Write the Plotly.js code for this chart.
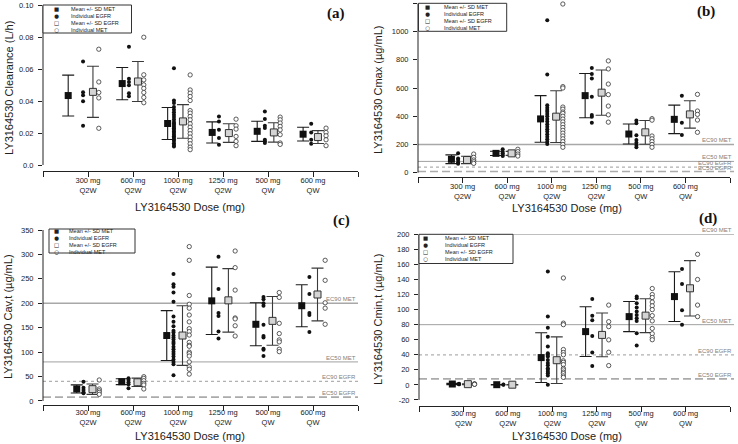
<!DOCTYPE html>
<html><head><meta charset="utf-8">
<script src="https://cdn.plot.ly/plotly-3.0.1.min.js"></script>
<style>html,body{margin:0;padding:0;background:#fff}#chart{width:738px;height:444px}</style>
</head><body><div id="chart"></div>
<script>
// ---------------- DATA ----------------
const categories = ['300 mg<br>Q2W','600 mg<br>Q2W','1000 mg<br>Q2W','1250 mg<br>Q2W','500 mg<br>QW','600 mg<br>QW'];
const catIndex = [1,2,3,4,5,6];
const legendLabels = ['Mean +/- SD MET','Individual EGFR','Mean +/- SD EGFR','Individual MET'];
const refLabels = ['EC90 MET','EC50 MET','EC90 EGFR','EC50 EGFR'];
const refValues = [200, 80, 40, 8];

// (a) Clearance
const metMeanA = [0.0435, 0.051, 0.026, 0.0204, 0.0211, 0.0193];
const metSdA   = [0.0128, 0.0101, 0.0100, 0.0066, 0.0063, 0.0043];
const egfrMeanA = [0.0458, 0.0523, 0.0273, 0.0200, 0.0204, 0.0175];
const egfrSdA   = [0.0160, 0.0125, 0.0105, 0.0058, 0.0061, 0.0040];
const egfrIndA = [
  [0.0648, 0.0455, 0.0437, 0.0400, 0.0246],
  [0.074, 0.054, 0.052, 0.050, 0.045, 0.043],
  [0.0606, 0.0404, 0.0388, 0.0363, 0.0346, 0.033, 0.0315, 0.030, 0.0285, 0.027, 0.026, 0.025, 0.024, 0.023, 0.022, 0.021, 0.020, 0.019, 0.018, 0.017, 0.016, 0.015, 0.0137, 0.0125, 0.0116],
  [0.0304, 0.0273, 0.0221, 0.0169, 0.0127],
  [0.0335, 0.0288, 0.0246, 0.0231, 0.0158, 0.0148, 0.0138],
  [0.0258, 0.0204, 0.0158, 0.0133]
];
const metIndA = [
  [0.0725, 0.052, 0.0454, 0.042, 0.023],
  [0.080, 0.0565, 0.0533, 0.0502, 0.048, 0.0454, 0.0423, 0.039],
  [0.0564, 0.047, 0.045, 0.0429, 0.0404, 0.0341, 0.0325, 0.0304, 0.0283, 0.0258, 0.0237, 0.0216, 0.0196, 0.0175, 0.0154, 0.0133, 0.0112, 0.0096],
  [0.0287, 0.0246, 0.0225, 0.0179, 0.0148, 0.0121],
  [0.030, 0.0283, 0.0263, 0.0242, 0.022, 0.019, 0.0138, 0.0129],
  [0.0231, 0.0204, 0.0183, 0.0158, 0.0121]
];

// (b) Cmax
const metMeanB = [95, 137, 381, 546, 274, 378];
const metSdB   = [31, 15, 165, 157, 71, 101];
const egfrMeanB = [90, 137, 397, 567, 286, 413];
const egfrSdB   = [26, 14, 183, 160, 84, 97];
const egfrIndB = [
  [137, 100, 90, 72, 64],
  [166, 149, 137, 125, 118],
  [1080, 695, 478, 460, 445, 432, 415, 400, 380, 362, 343, 326, 308, 291, 272, 255, 237, 220, 203],
  [741, 700, 668, 538, 409, 397, 354],
  [369, 350, 265, 232, 213, 196, 180],
  [545, 354, 267]
];
const metIndB = [
  [132, 109, 90, 78, 66],
  [166, 149, 132, 118],
  [1195, 610, 600, 465, 450, 430, 420, 400, 380, 360, 340, 320, 300, 280, 260, 240, 220, 200, 180],
  [792, 735, 628, 553, 472, 410, 358],
  [383, 372, 260, 240, 220, 200, 180],
  [555, 437, 413, 373, 286]
];

// (c) Cav,t
const metMeanC = [24.6, 39.5, 134, 205, 157, 195];
const metSdC   = [8.3, 5.9, 51, 69, 44, 43];
const egfrMeanC = [24.2, 38.3, 134, 206, 164, 218];
const egfrSdC   = [10.6, 8.5, 61, 65, 50, 54];
const egfrIndC = [
  [39.6, 27.3, 22.5, 17.7, 15.7],
  [46.4, 43, 38.3, 34.2, 26],
  [260, 239, 234, 222, 203, 173, 162, 153, 144, 140, 134, 130, 126, 121, 117, 111, 106, 101, 96, 91, 85, 80, 75, 52.6],
  [295, 229, 180, 174, 142, 128],
  [213, 208, 200, 195, 156, 133, 130, 107, 105, 92],
  [254, 219, 180, 176, 141]
];
const metIndC = [
  [43, 24.6, 21, 17.7, 13.6],
  [49.8, 46.4, 41.6, 36.2, 32.8, 24.6],
  [316, 288, 216, 198, 190, 176, 162, 148, 142, 135, 120, 114, 112, 100, 97, 92, 80, 70, 65, 55],
  [307, 273, 227, 170, 168, 154, 133],
  [222, 212, 159, 138, 125, 121, 106, 101],
  [288, 247, 201, 190, 157]
];

// (d) Cmin,t
const metMeanD = [1.2, 0.3, 36.3, 70.8, 90.7, 117.3];
const metSdD   = [0.8, 0.3, 33, 33, 20, 33];
const egfrMeanD = [1.0, 0.3, 32.8, 66.4, 92, 128.3];
const egfrSdD   = [0.6, 0.3, 31, 29, 22.5, 36.7];
const egfrIndD = [
  [1.5, 1.0, 0.8],
  [0.4, 0.2],
  [150.5, 91, 76, 64, 51, 42, 40, 37.6, 33, 29, 26, 22, 20, 17.5, 15.5, 12.4, 0.3],
  [114, 92, 86, 65, 43, 25.2],
  [117.3, 115, 108.5, 102.7, 97.4, 93, 88.5, 85, 68.6, 52.2],
  [154, 134, 99, 80]
];
const metIndD = [
  [1.5, 1.0, 0.8],
  [],
  [142, 82, 80, 47, 43, 40, 32, 30, 27, 22, 20, 17, 15, 12, 10],
  [106, 84, 77.4, 59.8, 43.4, 25.7],
  [128, 120, 116, 110, 105, 100, 92, 85, 75, 68, 63, 60],
  [173.5, 140, 106, 90.7]
];

// ---------------- LAYOUT HELPERS ----------------
const W = 738, H = 444;
const px = x => x / W;
const py = y => 1 - y / H;
const FONT = 'Liberation Sans, Arial, sans-serif';

const defOff = {sq:[-0.25,-0.25,-0.25,-0.25,-0.27,-0.25], dot:[-0.1,-0.1,-0.1,-0.1,-0.1,-0.08], osq:[0.1,0.1,0.1,0.12,0.1,0.1], circ:[0.25,0.24,0.25,0.27,0.25,0.27]};
const offA = {sq:[-0.44,-0.24,-0.23,-0.24,-0.24,-0.22], dot:[-0.11,-0.09,-0.09,-0.09,-0.07,-0.04], osq:[0.11,0.11,0.11,0.13,0.13,0.11], circ:[0.24,0.24,0.27,0.29,0.27,0.29]};

const panels = [
  {id:'a', xa:'x', ya:'y', xdom:[43,358], ydom:[171,5.3], yr:[-0.00375,0.10],
   tv:[0,0.02,0.04,0.06,0.08,0.10], tt:['0.0','0.02','0.04','0.06','0.08','0.10'], yline:[0,0.10],
   data:{mm:metMeanA, ms:metSdA, em:egfrMeanA, es:egfrSdA, ei:egfrIndA, mi:metIndA}, off:offA,
   ytitle:'LY3164530 Clearance (L/h)', ytx:9, yty:88, xtx:190, xty:207, lab:[336,13], xso:-3,
   leg:{box:[43,5,131.5,33], sym:56, txt:70}, refs:false},
  {id:'b', xa:'x2', ya:'y2', xdom:[418,730], ydom:[177.3,3.3], yr:[-32.6,1200],
   tv:[0,200,400,600,800,1000,1200], tt:null, yline:[0,1200],
   data:{mm:metMeanB, ms:metSdB, em:egfrMeanB, es:egfrSdB, ei:egfrIndB, mi:metIndB}, off:defOff,
   ytitle:'LY3164530 Cmax (µg/mL)', ytx:378, yty:90, xtx:567, xty:208, lab:[706,12], xso:-3,
   leg:{box:[418.5,3.3,506.7,31.3], sym:427, txt:443}, refs:true, refEnd:734},
  {id:'c', xa:'x3', ya:'y3', xdom:[43,358], ydom:[405,230], yr:[-8.2,350],
   tv:[0,50,100,150,200,250,300,350], tt:null, yline:[0,350],
   data:{mm:metMeanC, ms:metSdC, em:egfrMeanC, es:egfrSdC, ei:egfrIndC, mi:metIndC}, off:defOff,
   ytitle:'LY3164530 Cav,t (µg/mL)', ytx:8, yty:317, xtx:190, xty:435.5, lab:[341,220], xso:-5,
   leg:{box:[49,229,135,253], sym:56, txt:68}, refs:true, refEnd:358},
  {id:'d', xa:'x4', ya:'y4', xdom:[419,730], ydom:[406,234.3], yr:[-28,200],
   tv:[-20,0,20,40,60,80,100,120,140,160,180,200], tt:null, yline:[-20,200],
   data:{mm:metMeanD, ms:metSdD, em:egfrMeanD, es:egfrSdD, ei:egfrIndD, mi:metIndD}, off:defOff,
   ytitle:'LY3164530 Cmin,t (µg/mL)', ytx:378, yty:320, xtx:567, xty:435.5, lab:[708,218], xso:-5,
   leg:{box:[419,234.3,513,263.5], sym:425, txt:444}, refs:true, refEnd:734}
];

const traces = [];
const layout = {
  width: W, height: H, margin:{l:0,r:0,t:0,b:0},
  paper_bgcolor:'#fff', plot_bgcolor:'rgba(0,0,0,0)', showlegend:false,
  font:{family:FONT, size:8, color:'#222'},
  shapes:[], annotations:[]
};

panels.forEach((p, k) => {
  const n = k === 0 ? '' : String(k+1);
  const d = p.data, o = p.off;
  const xs = s => catIndex.map((c,i) => c + o[s][i]);
  const flat = (arr, s) => { const X=[],Y=[]; arr.forEach((vals,i)=>vals.forEach(v=>{X.push(catIndex[i]+o[s][i]); Y.push(v);})); return [X,Y]; };
  const [dx, dy] = flat(d.ei, 'dot');
  const [cx, cy] = flat(d.mi, 'circ');
  traces.push({type:'scatter', mode:'markers', name:legendLabels[0], xaxis:p.xa, yaxis:p.ya, cliponaxis:false,
    x: xs('sq'), y: d.mm, error_y:{type:'data', array:d.ms, visible:true, color:'#1a1a1a', thickness:1.1, width:6},
    marker:{symbol:'square', size:7, color:'#111'}});
  traces.push({type:'scatter', mode:'markers', name:legendLabels[1], xaxis:p.xa, yaxis:p.ya, cliponaxis:false,
    x: dx, y: dy, marker:{symbol:'circle', size:4, color:'#111'}});
  traces.push({type:'scatter', mode:'markers', name:legendLabels[2], xaxis:p.xa, yaxis:p.ya, cliponaxis:false,
    x: xs('osq'), y: d.em, error_y:{type:'data', array:d.es, visible:true, color:'#3a3a3a', thickness:1.1, width:6},
    marker:{symbol:'square', size:7, color:'#d4d4d4', line:{color:'#333', width:1}}});
  traces.push({type:'scatter', mode:'markers', name:legendLabels[3], xaxis:p.xa, yaxis:p.ya, cliponaxis:false,
    x: cx, y: cy, marker:{symbol:'circle', size:4.3, color:'#fff', line:{color:'#333', width:0.8}}});

  layout['xaxis'+n] = {domain:[px(p.xdom[0]), px(p.xdom[1])], anchor:p.ya, range:[0,7],
    tickvals:[0,1,2,3,4,5,6,7], ticktext:[''].concat(categories, ['']),
    showline:true, linecolor:'#222', linewidth:1, ticks:'outside', ticklen:5, tickcolor:'#222',
    showgrid:false, zeroline:false, tickfont:{family:FONT, size:7.5, color:'#222'}, ticklabelstandoff:p.xso, fixedrange:true};
  layout['yaxis'+n] = {domain:[py(p.ydom[0]), py(p.ydom[1])], anchor:p.xa, range:p.yr,
    tickvals:p.tv, ticktext:p.tt || p.tv.map(String), showline:false, ticks:'outside', ticklen:4, tickcolor:'#222',
    showgrid:false, zeroline:false, tickfont:{family:FONT, size:7.5, color:'#222'}, ticklabelstandoff:3, fixedrange:true};

  // y axis line
  layout.shapes.push({type:'line', xref:'paper', yref:p.ya, x0:px(p.xdom[0]), x1:px(p.xdom[0]), y0:p.yline[0], y1:p.yline[1], line:{color:'#222', width:1}});

  // reference lines
  if (p.refs) {
    const styles = [{color:'#a8a8a8', width:1.6, dash:'solid'}, {color:'#a0a0a0', width:1, dash:'solid'},
                    {color:'#b0b0b0', width:1.2, dash:'dot'}, {color:'#ababab', width:1.6, dash:'8px,4px'}];
    refValues.forEach((v, j) => {
      layout.shapes.push({type:'line', xref:'paper', yref:p.ya, x0:px(p.xdom[0]), x1:px(p.refEnd), y0:v, y1:v, line:styles[j], layer:'below'});
      layout.annotations.push({xref:'paper', yref:p.ya, x:px(p.refEnd-1), y:v, xanchor:'right', yanchor:'bottom', showarrow:false,
        text:refLabels[j], font:{family:FONT, size:6, color:'#808080'}, borderpad:0, yshift:0});
    });
  }

  // legend box
  const L = p.leg;
  const midY = (L.box[1] + L.box[3]) / 2;
  layout.shapes.push({type:'rect', xref:'paper', yref:'paper', x0:px(L.box[0]), x1:px(L.box[2]), y0:py(L.box[3]), y1:py(L.box[1]),
    line:{color:'#333', width:1}, fillcolor:'#fff'});
  layout.annotations.push({xref:'paper', yref:'paper', x:px(L.sym), y:py(midY), xanchor:'center', yanchor:'middle', showarrow:false,
    text:'■<br>●<br>□<br>○', font:{family:'DejaVu Sans, sans-serif', size:5.4, color:'#222'}, borderpad:0});
  layout.annotations.push({xref:'paper', yref:'paper', x:px(L.txt), y:py(midY), xanchor:'left', yanchor:'middle', align:'left', showarrow:false,
    text:legendLabels.join('<br>'), font:{family:FONT, size:5.5, color:'#222'}, borderpad:0});

  // titles
  layout.annotations.push({xref:'paper', yref:'paper', x:px(p.ytx), y:py(p.yty), xanchor:'center', yanchor:'middle', showarrow:false,
    textangle:-90, text:p.ytitle, font:{family:FONT, size:11, color:'#222'}});
  layout.annotations.push({xref:'paper', yref:'paper', x:px(p.xtx), y:py(p.xty), xanchor:'center', yanchor:'middle', showarrow:false,
    text:'LY3164530 Dose (mg)', font:{family:FONT, size:11, color:'#222'}});
  layout.annotations.push({xref:'paper', yref:'paper', x:px(p.lab[0]), y:py(p.lab[1]), xanchor:'center', yanchor:'middle', showarrow:false,
    text:'<b>(' + p.id + ')</b>', font:{family:'Liberation Serif, Times New Roman, serif', size:15, color:'#111'}});
});

Plotly.newPlot('chart', traces, layout, {staticPlot:true, displayModeBar:false});
</script>
</body></html>
